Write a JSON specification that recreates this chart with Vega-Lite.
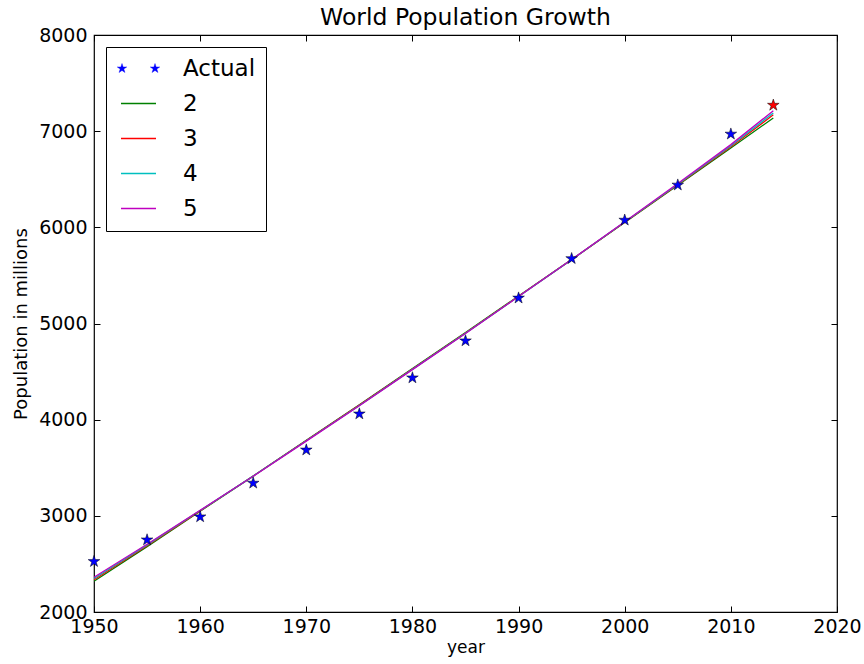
{
  "$schema": "https://vega.github.io/schema/vega-lite/v6.json",
  "width": 743,
  "height": 577,
  "autosize": {"type": "none"},
  "padding": {"left": 94, "top": 35, "right": 27, "bottom": 52},
  "background": "white",
  "config": {
    "font": "DejaVu Sans",
    "view": {"stroke": "black", "strokeWidth": 1.2},
    "axis": {
      "grid": false,
      "domain": false,
      "tickColor": "black",
      "tickSize": -6,
      "labelColor": "black",
      "labelFont": "DejaVu Sans",
      "labelFontSize": 19,
      "titleFont": "DejaVu Sans",
      "titleFontSize": 17,
      "titleFontWeight": "normal",
      "titleColor": "black"
    }
  },
  "title": {
    "text": "World Population Growth",
    "fontSize": 23.5,
    "font": "DejaVu Sans",
    "fontWeight": "normal",
    "color": "black",
    "offset": -3
  },
  "datasets": {
    "actual": [
      {"year": 1950, "value": 2525, "series": "Actual"},
      {"year": 1955, "value": 2750, "series": "Actual"},
      {"year": 1960, "value": 2990, "series": "Actual"},
      {"year": 1965, "value": 3340, "series": "Actual"},
      {"year": 1970, "value": 3685, "series": "Actual"},
      {"year": 1975, "value": 4060, "series": "Actual"},
      {"year": 1980, "value": 4435, "series": "Actual"},
      {"year": 1985, "value": 4820, "series": "Actual"},
      {"year": 1990, "value": 5265, "series": "Actual"},
      {"year": 1995, "value": 5675, "series": "Actual"},
      {"year": 2000, "value": 6075, "series": "Actual"},
      {"year": 2005, "value": 6440, "series": "Actual"},
      {"year": 2010, "value": 6970, "series": "Actual"}
    ],
    "latest": [
      {"year": 2014, "value": 7270}
    ],
    "fits": [
      {"year": 1950, "value": 2320, "series": "2"},
      {"year": 1955, "value": 2680, "series": "2"},
      {"year": 1960, "value": 3048, "series": "2"},
      {"year": 1965, "value": 3413, "series": "2"},
      {"year": 1970, "value": 3785, "series": "2"},
      {"year": 1975, "value": 4155, "series": "2"},
      {"year": 1980, "value": 4531, "series": "2"},
      {"year": 1985, "value": 4905, "series": "2"},
      {"year": 1990, "value": 5286, "series": "2"},
      {"year": 1995, "value": 5665, "series": "2"},
      {"year": 2000, "value": 6051, "series": "2"},
      {"year": 2005, "value": 6437, "series": "2"},
      {"year": 2010, "value": 6825, "series": "2"},
      {"year": 2014, "value": 7137, "series": "2"},
      {"year": 1950, "value": 2335, "series": "3"},
      {"year": 1955, "value": 2690, "series": "3"},
      {"year": 1960, "value": 3052, "series": "3"},
      {"year": 1965, "value": 3414, "series": "3"},
      {"year": 1970, "value": 3783, "series": "3"},
      {"year": 1975, "value": 4151, "series": "3"},
      {"year": 1980, "value": 4527, "series": "3"},
      {"year": 1985, "value": 4901, "series": "3"},
      {"year": 1990, "value": 5283, "series": "3"},
      {"year": 1995, "value": 5664, "series": "3"},
      {"year": 2000, "value": 6052, "series": "3"},
      {"year": 2005, "value": 6442, "series": "3"},
      {"year": 2010, "value": 6838, "series": "3"},
      {"year": 2014, "value": 7170, "series": "3"},
      {"year": 1950, "value": 2348, "series": "4"},
      {"year": 1955, "value": 2698, "series": "4"},
      {"year": 1960, "value": 3055, "series": "4"},
      {"year": 1965, "value": 3413, "series": "4"},
      {"year": 1970, "value": 3780, "series": "4"},
      {"year": 1975, "value": 4148, "series": "4"},
      {"year": 1980, "value": 4523, "series": "4"},
      {"year": 1985, "value": 4898, "series": "4"},
      {"year": 1990, "value": 5281, "series": "4"},
      {"year": 1995, "value": 5664, "series": "4"},
      {"year": 2000, "value": 6055, "series": "4"},
      {"year": 2005, "value": 6448, "series": "4"},
      {"year": 2010, "value": 6848, "series": "4"},
      {"year": 2014, "value": 7190, "series": "4"},
      {"year": 1950, "value": 2362, "series": "5"},
      {"year": 1955, "value": 2705, "series": "5"},
      {"year": 1960, "value": 3058, "series": "5"},
      {"year": 1965, "value": 3412, "series": "5"},
      {"year": 1970, "value": 3777, "series": "5"},
      {"year": 1975, "value": 4145, "series": "5"},
      {"year": 1980, "value": 4520, "series": "5"},
      {"year": 1985, "value": 4896, "series": "5"},
      {"year": 1990, "value": 5280, "series": "5"},
      {"year": 1995, "value": 5665, "series": "5"},
      {"year": 2000, "value": 6058, "series": "5"},
      {"year": 2005, "value": 6455, "series": "5"},
      {"year": 2010, "value": 6860, "series": "5"},
      {"year": 2014, "value": 7212, "series": "5"}
    ]
  },
  "resolve": {"axis": {"x": "independent", "y": "independent"}},
  "layer": [
    {
      "data": {"name": "fits"},
      "mark": {"type": "line", "strokeWidth": 1.3, "clip": true},
      "encoding": {
        "x": {"field": "year", "type": "quantitative", "scale": {"domain": [1950, 2020], "nice": false, "zero": false},
              "axis": {"orient": "bottom", "values": [1950, 1960, 1970, 1980, 1990, 2000, 2010, 2020], "format": "d", "title": "year", "labelPadding": 11, "titlePadding": 3, "labelFlush": false}},
        "y": {"field": "value", "type": "quantitative", "scale": {"domain": [2000, 8000], "nice": false, "zero": false},
              "axis": {"orient": "left", "values": [2000, 3000, 4000, 5000, 6000, 7000, 8000], "format": "d", "title": "Population in millions", "titleFontSize": 18, "labelPadding": 13, "titlePadding": 8, "labelFlush": false}},
        "color": {
          "field": "series", "type": "nominal",
          "scale": {"domain": ["Actual", "2", "3", "4", "5"], "range": ["#0000ff", "#008000", "#ff0000", "#00bfbf", "#bf00bf"]},
          "legend": {
            "title": null,
            "orient": "top-left",
            "offset": 12,
            "fillColor": "white",
            "strokeColor": "black",
            "padding": 10,
            "labelFontSize": 23,
            "labelFont": "DejaVu Sans",
            "labelColor": "black",
            "symbolSize": 1225,
            "symbolType": "stroke",
            "symbolStrokeWidth": 1.3,
            "symbolOffset": 11,
            "rowPadding": 11,
            "labelOffset": 33,
            "encode": {
              "symbols": {
                "update": {
                  "shape": {"signal": "datum.value === 'Actual' ? 'M-3.3,-1L-3.075,-0.309L-2.349,-0.309L-2.937,0.118L-2.712,0.809L-3.3,0.382L-3.888,0.809L-3.663,0.118L-4.251,-0.309L-3.525,-0.309ZM3.3,-1L3.525,-0.309L4.251,-0.309L3.663,0.118L3.888,0.809L3.3,0.382L2.712,0.809L2.937,0.118L2.349,-0.309L3.075,-0.309Z' : 'stroke'"},
                  "size": {"signal": "datum.value === 'Actual' ? 100 : 1225"},
                  "fill": {"signal": "scale('color', datum.value)"},
                  "stroke": {"signal": "datum.value === 'Actual' ? 'black' : scale('color', datum.value)"},
                  "strokeWidth": {"signal": "datum.value === 'Actual' ? 0.4 : 1.3"}
                }
              }
            }
          }
        }
      }
    },
    {
      "data": {"name": "actual"},
      "mark": {"type": "point", "shape": "M0,-1L0.225,-0.309L0.951,-0.309L0.363,0.118L0.588,0.809L0,0.382L-0.588,0.809L-0.363,0.118L-0.951,-0.309L-0.225,-0.309Z", "filled": true, "size": 150, "stroke": "black", "strokeWidth": 0.5, "opacity": 1, "clip": false},
      "encoding": {
        "x": {"field": "year", "type": "quantitative", "scale": {"domain": [1950, 2020], "nice": false, "zero": false},
              "axis": {"orient": "top", "values": [1950, 1960, 1970, 1980, 1990, 2000, 2010, 2020], "labels": false, "title": null}},
        "y": {"field": "value", "type": "quantitative", "scale": {"domain": [2000, 8000], "nice": false, "zero": false},
              "axis": {"orient": "right", "values": [2000, 3000, 4000, 5000, 6000, 7000, 8000], "labels": false, "title": null}},
        "color": {"field": "series", "type": "nominal"}
      }
    },
    {
      "data": {"name": "latest"},
      "mark": {"type": "point", "shape": "M0,-1L0.225,-0.309L0.951,-0.309L0.363,0.118L0.588,0.809L0,0.382L-0.588,0.809L-0.363,0.118L-0.951,-0.309L-0.225,-0.309Z", "filled": true, "size": 150, "fill": "#ff0000", "color": "#ff0000", "stroke": "black", "strokeWidth": 0.5, "opacity": 1, "clip": false},
      "encoding": {
        "x": {"field": "year", "type": "quantitative", "axis": null},
        "y": {"field": "value", "type": "quantitative", "axis": null}
      }
    }
  ]
}
